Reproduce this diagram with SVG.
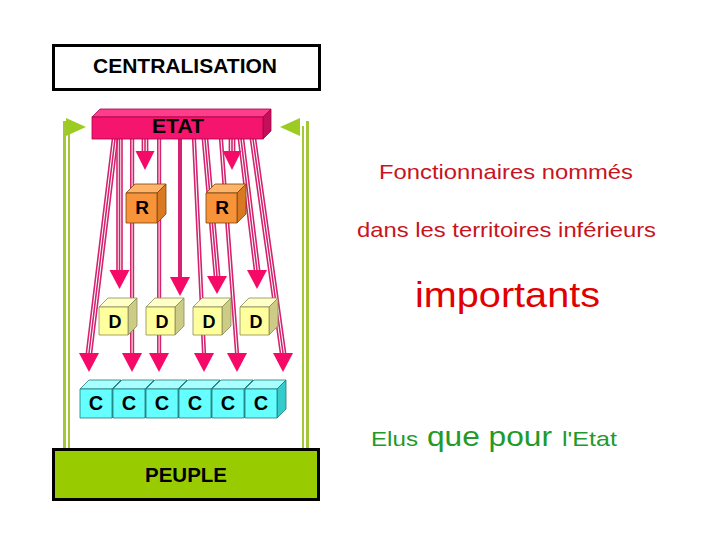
<svg xmlns="http://www.w3.org/2000/svg" width="720" height="540" viewBox="0 0 720 540">
<style>
.lbl{font-family:"Liberation Sans",Arial,sans-serif;font-weight:bold;fill:#000;text-anchor:middle}
.ln{stroke:#d4236f;stroke-width:1.6;fill:none}
.hd{fill:#f50a68}
.gr{stroke:#a4c639;fill:none}
.rt{font-family:"Liberation Sans",Arial,sans-serif}
.red{fill:#c8141e}
.grn{fill:#229a2a}
.k{stroke-width:0.8;stroke-linejoin:round}
.r .f{fill:#f7943a}.r .t{fill:#ffb469}.r .s{fill:#d97a22}.r path{stroke:#7a4210}
.d .f{fill:#ffff9e}.d .t{fill:#ffffc8}.d .s{fill:#cccc86}.d path{stroke:#8a8a55}
.c .f{fill:#66ffff}.c .t{fill:#a8ffff}.c .s{fill:#33cccc}.c path{stroke:#1f7a7a}
</style>
<rect width="720" height="540" fill="#fff"/>

<g id="centralisation">
<rect x="53.5" y="45.5" width="266" height="44" fill="#fff" stroke="#000" stroke-width="3"/>
<text class="lbl" x="185" y="73" font-size="20" textLength="184" lengthAdjust="spacingAndGlyphs">CENTRALISATION</text>
</g>

<g id="flags">
<line class="gr" x1="64.5" y1="121" x2="64.5" y2="449" stroke-width="3"/>
<line class="gr" x1="69" y1="126" x2="69" y2="449" stroke-width="2"/>
<polygon points="66,118 86,127 66,136" fill="#9ccc22"/>
<line class="gr" x1="303" y1="126" x2="303" y2="449" stroke-width="2"/>
<line class="gr" x1="307.5" y1="121" x2="307.5" y2="449" stroke-width="3"/>
<polygon points="300,118 280,127 300,136" fill="#9ccc22"/>
</g>

<g id="connectors">
<path class="ln" d="M112.4,139 L86.4,353 M115,139 L89,353 M117.6,139 L91.6,353"/>
<polygon class="hd" points="79,353 99,353 89,372"/>
<path class="ln" d="M117,139 V270 M119.5,139 V270 M122,139 V270"/>
<polygon class="hd" points="109.5,270 129.5,270 119.5,289"/>
<path class="ln" d="M130.8,139 V353 M133.4,139 V353"/>
<polygon class="hd" points="122,353 142,353 132,372"/>
<path class="ln" d="M142.4,139 V152 M145,139 V152 M147.6,139 V152"/>
<polygon class="hd" points="135.5,151 154.5,151 145,170"/>
<path class="ln" d="M157.8,139 V353 M160.4,139 V353"/>
<polygon class="hd" points="149,353 169,353 159,372"/>
<line x1="180" y1="139" x2="180" y2="278" stroke="#d4236f" stroke-width="4"/>
<polygon class="hd" points="170,277 190,277 180,296"/>
<path class="ln" d="M192.7,139 L202.7,353 M195.3,139 L205.3,353"/>
<polygon class="hd" points="194,353 214,353 204,372"/>
<path class="ln" d="M202.4,139 L214.4,276 M205,139 L217,276 M207.6,139 L219.6,276"/>
<polygon class="hd" points="207,276 227,276 217,294"/>
<path class="ln" d="M229.4,139 V152 M232,139 V152 M234.6,139 V152"/>
<polygon class="hd" points="222.5,151 241.5,151 232,170"/>
<path class="ln" d="M219.7,139 L235.7,353 M222.3,139 L238.3,353"/>
<polygon class="hd" points="227,353 247,353 237,372"/>
<path class="ln" d="M238.4,139 L254.4,270 M241,139 L257,270 M243.6,139 L259.6,270"/>
<polygon class="hd" points="247,270 267,270 257,289"/>
<path class="ln" d="M250.4,139 L280.4,353 M253,139 L283,353 M255.6,139 L285.6,353"/>
<polygon class="hd" points="273,353 293,353 283,372"/>
</g>

<g id="etat">
<path d="M92,117 L100,109 L271,109 L263,117 Z" fill="#ff3d8a" stroke="#a8004a" stroke-width="0.8"/>
<path d="M263,117 L271,109 L271,131 L263,139 Z" fill="#c2105a" stroke="#a8004a" stroke-width="0.8"/>
<rect x="92" y="117" width="171" height="22" fill="#f5146e" stroke="#a8004a" stroke-width="0.8"/>
<text class="lbl" x="178" y="133" font-size="19.5" textLength="52" lengthAdjust="spacingAndGlyphs">ETAT</text>
</g>

<g id="r1" class="r k">
<path class="t" d="M126,193 L135,184 L166,184 L157,193 Z"/>
<path class="s" d="M157,193 L166,184 L166,214 L157,223 Z"/>
<path class="f" d="M126,193 H157 V223 H126 Z"/>
<text class="lbl" x="142" y="214" font-size="19">R</text>
</g>
<g id="r2" class="r k">
<path class="t" d="M206,193 L215,184 L246,184 L237,193 Z"/>
<path class="s" d="M237,193 L246,184 L246,214 L237,223 Z"/>
<path class="f" d="M206,193 H237 V223 H206 Z"/>
<text class="lbl" x="222" y="214" font-size="19">R</text>
</g>

<g id="d1" class="d k">
<path class="t" d="M99,307 L108,298 L137,298 L128,307 Z"/>
<path class="s" d="M128,307 L137,298 L137,326 L128,335 Z"/>
<path class="f" d="M99,307 H128 V335 H99 Z"/>
<text class="lbl" x="115" y="328" font-size="18">D</text>
</g>
<g id="d2" class="d k">
<path class="t" d="M146,307 L155,298 L184,298 L175,307 Z"/>
<path class="s" d="M175,307 L184,298 L184,326 L175,335 Z"/>
<path class="f" d="M146,307 H175 V335 H146 Z"/>
<text class="lbl" x="162" y="328" font-size="18">D</text>
</g>
<g id="d3" class="d k">
<path class="t" d="M193,307 L202,298 L231,298 L222,307 Z"/>
<path class="s" d="M222,307 L231,298 L231,326 L222,335 Z"/>
<path class="f" d="M193,307 H222 V335 H193 Z"/>
<text class="lbl" x="209" y="328" font-size="18">D</text>
</g>
<g id="d4" class="d k">
<path class="t" d="M240,307 L249,298 L278,298 L269,307 Z"/>
<path class="s" d="M269,307 L278,298 L278,326 L269,335 Z"/>
<path class="f" d="M240,307 H269 V335 H240 Z"/>
<text class="lbl" x="256" y="328" font-size="18">D</text>
</g>

<g id="c1" class="c k">
<path class="t" d="M80,389 L89,380 L121,380 L112,389 Z"/>
<path class="s" d="M112,389 L121,380 L121,409 L112,418 Z"/>
<path class="f" d="M80,389 H112 V418 H80 Z"/>
<text class="lbl" x="96" y="410" font-size="20">C</text>
</g>
<g id="c2" class="c k">
<path class="t" d="M113,389 L122,380 L154,380 L145,389 Z"/>
<path class="s" d="M145,389 L154,380 L154,409 L145,418 Z"/>
<path class="f" d="M113,389 H145 V418 H113 Z"/>
<text class="lbl" x="129" y="410" font-size="20">C</text>
</g>
<g id="c3" class="c k">
<path class="t" d="M146,389 L155,380 L187,380 L178,389 Z"/>
<path class="s" d="M178,389 L187,380 L187,409 L178,418 Z"/>
<path class="f" d="M146,389 H178 V418 H146 Z"/>
<text class="lbl" x="162" y="410" font-size="20">C</text>
</g>
<g id="c4" class="c k">
<path class="t" d="M179,389 L188,380 L220,380 L211,389 Z"/>
<path class="s" d="M211,389 L220,380 L220,409 L211,418 Z"/>
<path class="f" d="M179,389 H211 V418 H179 Z"/>
<text class="lbl" x="195" y="410" font-size="20">C</text>
</g>
<g id="c5" class="c k">
<path class="t" d="M212,389 L221,380 L253,380 L244,389 Z"/>
<path class="s" d="M244,389 L253,380 L253,409 L244,418 Z"/>
<path class="f" d="M212,389 H244 V418 H212 Z"/>
<text class="lbl" x="228" y="410" font-size="20">C</text>
</g>
<g id="c6" class="c k">
<path class="t" d="M245,389 L254,380 L286,380 L277,389 Z"/>
<path class="s" d="M277,389 L286,380 L286,409 L277,418 Z"/>
<path class="f" d="M245,389 H277 V418 H245 Z"/>
<text class="lbl" x="261" y="410" font-size="20">C</text>
</g>

<g id="peuple">
<rect x="53.5" y="449.5" width="265" height="50" fill="#99cc00" stroke="#000" stroke-width="3"/>
<text class="lbl" x="186" y="482" font-size="20" textLength="82" lengthAdjust="spacingAndGlyphs">PEUPLE</text>
</g>

<g id="notes">
<text class="rt red" x="379" y="179" font-size="21" textLength="254" lengthAdjust="spacingAndGlyphs">Fonctionnaires nommés</text>
<text class="rt red" x="357" y="237" font-size="21" textLength="299" lengthAdjust="spacingAndGlyphs">dans les territoires inférieurs</text>
<text class="rt" x="415" y="307" font-size="35" fill="#e00000" textLength="185" lengthAdjust="spacingAndGlyphs">importants</text>
<text class="rt grn" x="371" y="446" font-size="21" textLength="47" lengthAdjust="spacingAndGlyphs">Elus</text>
<text class="rt grn" x="427" y="446" font-size="28" textLength="125" lengthAdjust="spacingAndGlyphs">que pour</text>
<text class="rt grn" x="562" y="446" font-size="21" textLength="55" lengthAdjust="spacingAndGlyphs">l'Etat</text>
</g>
</svg>
